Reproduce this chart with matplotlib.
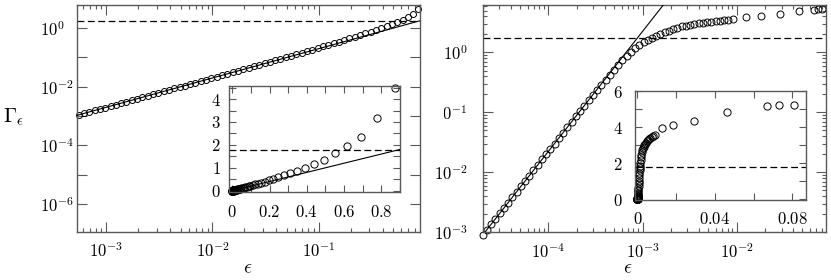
import numpy as np
import matplotlib
matplotlib.use('Agg')
import matplotlib.pyplot as plt
from matplotlib.ticker import LogLocator, MultipleLocator, FuncFormatter, NullLocator, NullFormatter
from matplotlib.patches import Rectangle

plt.rcParams['mathtext.fontset'] = 'cm'
plt.rcParams['font.family'] = ['cmr10', 'DejaVu Serif']
plt.rcParams['axes.formatter.use_mathtext'] = True

# left panel: Gamma_eps vs eps
eps_a = [5.50e-4, 6.17e-4, 6.92e-4, 7.76e-4, 8.71e-4, 9.77e-4,
         1.10e-3, 1.23e-3, 1.38e-3, 1.55e-3, 1.74e-3, 1.95e-3, 2.19e-3, 2.45e-3, 2.75e-3, 3.09e-3,
         3.47e-3, 3.89e-3, 4.37e-3, 4.90e-3, 5.50e-3, 6.17e-3, 6.92e-3, 7.76e-3, 8.71e-3, 9.77e-3,
         0.0110, 0.0123, 0.0138, 0.0155, 0.0174, 0.0195, 0.0219, 0.0245, 0.0275, 0.0309,
         0.0347, 0.0389, 0.0437, 0.0490, 0.0550, 0.0617, 0.0692, 0.0776, 0.0871, 0.0977,
         0.110, 0.123, 0.138, 0.155, 0.174, 0.195, 0.219, 0.245, 0.275, 0.309,
         0.347, 0.389, 0.437, 0.490, 0.550, 0.617, 0.692, 0.776, 0.871]
gam_a = [1.10e-3, 1.23e-3, 1.38e-3, 1.55e-3, 1.74e-3, 1.95e-3,
         2.20e-3, 2.46e-3, 2.76e-3, 3.10e-3, 3.48e-3, 3.90e-3, 4.38e-3, 4.90e-3, 5.50e-3, 6.18e-3,
         6.94e-3, 7.79e-3, 8.75e-3, 9.81e-3, 0.0110, 0.0124, 0.0139, 0.0156, 0.0175, 0.0197,
         0.0222, 0.0249, 0.0279, 0.0314, 0.0353, 0.0396, 0.0446, 0.0500, 0.0562, 0.0633,
         0.0713, 0.0802, 0.0905, 0.102, 0.115, 0.129, 0.146, 0.165, 0.186, 0.211,
         0.240, 0.271, 0.306, 0.347, 0.397, 0.452, 0.517, 0.588, 0.671, 0.76,
         0.875, 1.01, 1.17, 1.34, 1.63, 1.95, 2.33, 3.16, 4.47]

# right panel
eps_b = [2.00e-5, 2.22e-5, 2.46e-5, 2.73e-5, 3.03e-5, 3.36e-5, 3.72e-5, 4.13e-5, 4.58e-5, 5.08e-5,
         5.64e-5, 6.25e-5, 6.93e-5, 7.69e-5, 8.53e-5, 9.46e-5, 1.05e-4, 1.16e-4, 1.29e-4, 1.43e-4,
         1.59e-4, 1.76e-4, 1.95e-4, 2.17e-4, 2.40e-4, 2.67e-4, 2.96e-4, 3.28e-4, 3.64e-4, 4.04e-4,
         4.48e-4, 4.97e-4, 5.51e-4, 6.11e-4, 6.78e-4, 7.52e-4, 8.34e-4, 9.25e-4, 1.03e-3, 1.14e-3,
         1.26e-3, 1.40e-3, 1.55e-3, 1.72e-3, 1.91e-3, 2.12e-3, 2.35e-3, 2.61e-3, 2.89e-3, 3.21e-3,
         3.56e-3, 3.94e-3, 4.38e-3, 4.85e-3, 5.38e-3, 5.97e-3, 6.62e-3, 7.35e-3, 8.15e-3, 9.04e-3,
         0.0127, 0.0183, 0.0292, 0.0462, 0.0667, 0.0733, 0.0808]
gam_b = [9.0e-4, 1.11e-3, 1.36e-3, 1.68e-3, 2.07e-3, 2.54e-3, 3.11e-3, 3.84e-3, 4.72e-3, 5.81e-3,
         7.16e-3, 8.79e-3, 0.0108, 0.0133, 0.0164, 0.0201, 0.0248, 0.0303, 0.0374, 0.0460,
         0.0569, 0.0697, 0.0856, 0.106, 0.130, 0.160, 0.197, 0.238, 0.288, 0.350,
         0.425, 0.515, 0.62, 0.74, 0.88, 1.02, 1.17, 1.32, 1.47, 1.60,
         1.72, 1.86, 2.02, 2.17, 2.32, 2.47, 2.60, 2.72, 2.82, 2.91,
         3.00, 3.07, 3.14, 3.21, 3.28, 3.35, 3.41, 3.47, 3.52, 3.57,
         3.98, 4.10, 4.36, 4.83, 5.20, 5.24, 5.26]

gam_c = 1.77       # dashed level
slope_a = 2.0      # Gamma = 2 eps
coef_b = 2.25e6    # Gamma = c eps^2

W, H = 831, 280
GRAY = '#5a5a5a'


def box(x0, y0, x1, y1):
    return [x0 / W, 1 - y1 / H, (x1 - x0) / W, (y1 - y0) / H]


def style(ax, major=7, minor=3):
    for s in ax.spines.values():
        s.set_color(GRAY)
        s.set_linewidth(1.0)
    ax.tick_params(which='both', direction='in', top=True, right=True, color=GRAY,
                   labelsize=12, width=0.8)
    ax.tick_params(which='major', length=major)
    ax.tick_params(which='minor', length=minor)


def logfmt(even=False):
    def f(v, p):
        e = int(round(np.log10(v)))
        if even and e % 2:
            return ''
        return '$10^{%d}$' % e
    return FuncFormatter(f)


linfmt = FuncFormatter(lambda v, p: '$%g$' % (round(v, 6) + 0.0))

fig = plt.figure(figsize=(W / 100, H / 100), dpi=100)

# ---- left main
ax1 = fig.add_axes(box(77, 5, 420, 232))
ax1.set_xscale('log')
ax1.set_yscale('log')
ax1.set_xlim(5.3e-4, 0.9)
ax1.set_ylim(1.1e-7, 6.2)
xl = np.array(ax1.get_xlim())
ax1.axhline(gam_c, color='k', lw=0.9, ls=(0, (5.5, 2.8)), zorder=1)
ax1.plot(eps_a, gam_a, 'o', mfc='none', mec='k', ms=4.3, mew=0.7, clip_on=False, zorder=2)
ax1.plot(xl, slope_a * xl, color='k', lw=0.8, zorder=3)
ax1.xaxis.set_major_locator(LogLocator(base=10, numticks=20))
ax1.xaxis.set_minor_locator(LogLocator(base=10, subs=np.arange(2, 10), numticks=20))
ax1.xaxis.set_major_formatter(logfmt())
ax1.xaxis.set_minor_formatter(NullFormatter())
ax1.yaxis.set_major_locator(LogLocator(base=10, numticks=20))
ax1.yaxis.set_minor_locator(NullLocator())
ax1.yaxis.set_major_formatter(logfmt(even=True))
style(ax1)
ax1.tick_params(axis='x', pad=7)
ax1.tick_params(axis='y', pad=27)
plt.setp(ax1.get_yticklabels(), ha='left')

# ---- left inset
ax2 = fig.add_axes(box(229.3, 86, 400, 191.7), zorder=5)
ax2.set_xlim(-0.016, 0.90)
ax2.set_ylim(-0.044, 4.57)
xl2 = np.array([0.0, 0.90])
ax2.axhline(gam_c, color='k', lw=0.9, ls=(0, (5.5, 2.8)), zorder=1)
ax2.plot(eps_a, gam_a, 'o', mfc='none', mec='k', ms=5.2, mew=0.7, clip_on=False, zorder=2)
ax2.plot(xl2, slope_a * xl2, color='k', lw=0.8, zorder=3)
ax2.xaxis.set_major_locator(MultipleLocator(0.2))
ax2.xaxis.set_minor_locator(MultipleLocator(0.1))
ax2.yaxis.set_major_locator(MultipleLocator(1))
ax2.yaxis.set_minor_locator(MultipleLocator(0.5))
ax2.xaxis.set_major_formatter(linfmt)
ax2.yaxis.set_major_formatter(linfmt)
style(ax2, major=5, minor=5)
ax2.tick_params(axis='x', pad=9)
ax2.tick_params(axis='y', pad=6)

# ---- right main
ax3 = fig.add_axes(box(482.7, 5, 826, 232.3))
ax3.set_xscale('log')
ax3.set_yscale('log')
ax3.set_xlim(2.0e-5, 0.089)
ax3.set_ylim(1e-3, 6.2)
xl3 = np.array([1.5e-5, 3e-3])
ax3.axhline(gam_c, color='k', lw=0.9, ls=(0, (5.5, 2.8)), zorder=1)
ax3.plot(eps_b, gam_b, 'o', mfc='none', mec='k', ms=5.0, mew=0.7, clip_on=False, zorder=2)
ax3.plot(xl3, coef_b * xl3 ** 2, color='k', lw=0.8, zorder=3)
for a in (ax3.xaxis, ax3.yaxis):
    a.set_major_locator(LogLocator(base=10, numticks=20))
    a.set_minor_locator(LogLocator(base=10, subs=np.arange(2, 10), numticks=20))
    a.set_major_formatter(logfmt())
    a.set_minor_formatter(NullFormatter())
style(ax3)
ax3.tick_params(axis='x', pad=7)
ax3.tick_params(axis='y', pad=11)

# ---- right inset
ax4 = fig.add_axes(box(635, 91.2, 805.7, 200), zorder=5)
ax4.set_xlim(-0.0012, 0.0869)
ax4.set_ylim(-0.05, 6.0)
ax4.axhline(gam_c, color='k', lw=0.9, ls=(0, (5.5, 2.8)), zorder=1)
ax4.plot(eps_b, gam_b, 'o', mfc='none', mec='k', ms=5.2, mew=0.7, clip_on=False, zorder=2)
ax4.xaxis.set_major_locator(MultipleLocator(0.04))
ax4.xaxis.set_minor_locator(MultipleLocator(0.02))
ax4.yaxis.set_major_locator(MultipleLocator(2))
ax4.yaxis.set_minor_locator(MultipleLocator(1))
ax4.xaxis.set_major_formatter(linfmt)
ax4.yaxis.set_major_formatter(linfmt)
style(ax4, major=5, minor=5)
ax4.tick_params(axis='x', pad=8)
ax4.tick_params(axis='y', pad=9)

# axis labels
fig.text(248 / W, 1 - 268 / H, r'$\epsilon$', ha='center', va='center', fontsize=14)
fig.text(628 / W, 1 - 268 / H, r'$\epsilon$', ha='center', va='center', fontsize=14)
fig.text(14 / W, 1 - 117 / H, r'$\Gamma_\epsilon$', ha='center', va='center', fontsize=15)

# the left figure's margin hides the first digit of one label on the right
fig.add_artist(Rectangle((423 / W, 1 - 122 / H), 21.5 / W, 20 / H, transform=fig.transFigure,
                         facecolor='white', edgecolor='none', zorder=10))

fig.savefig('out.png', dpi=100)
